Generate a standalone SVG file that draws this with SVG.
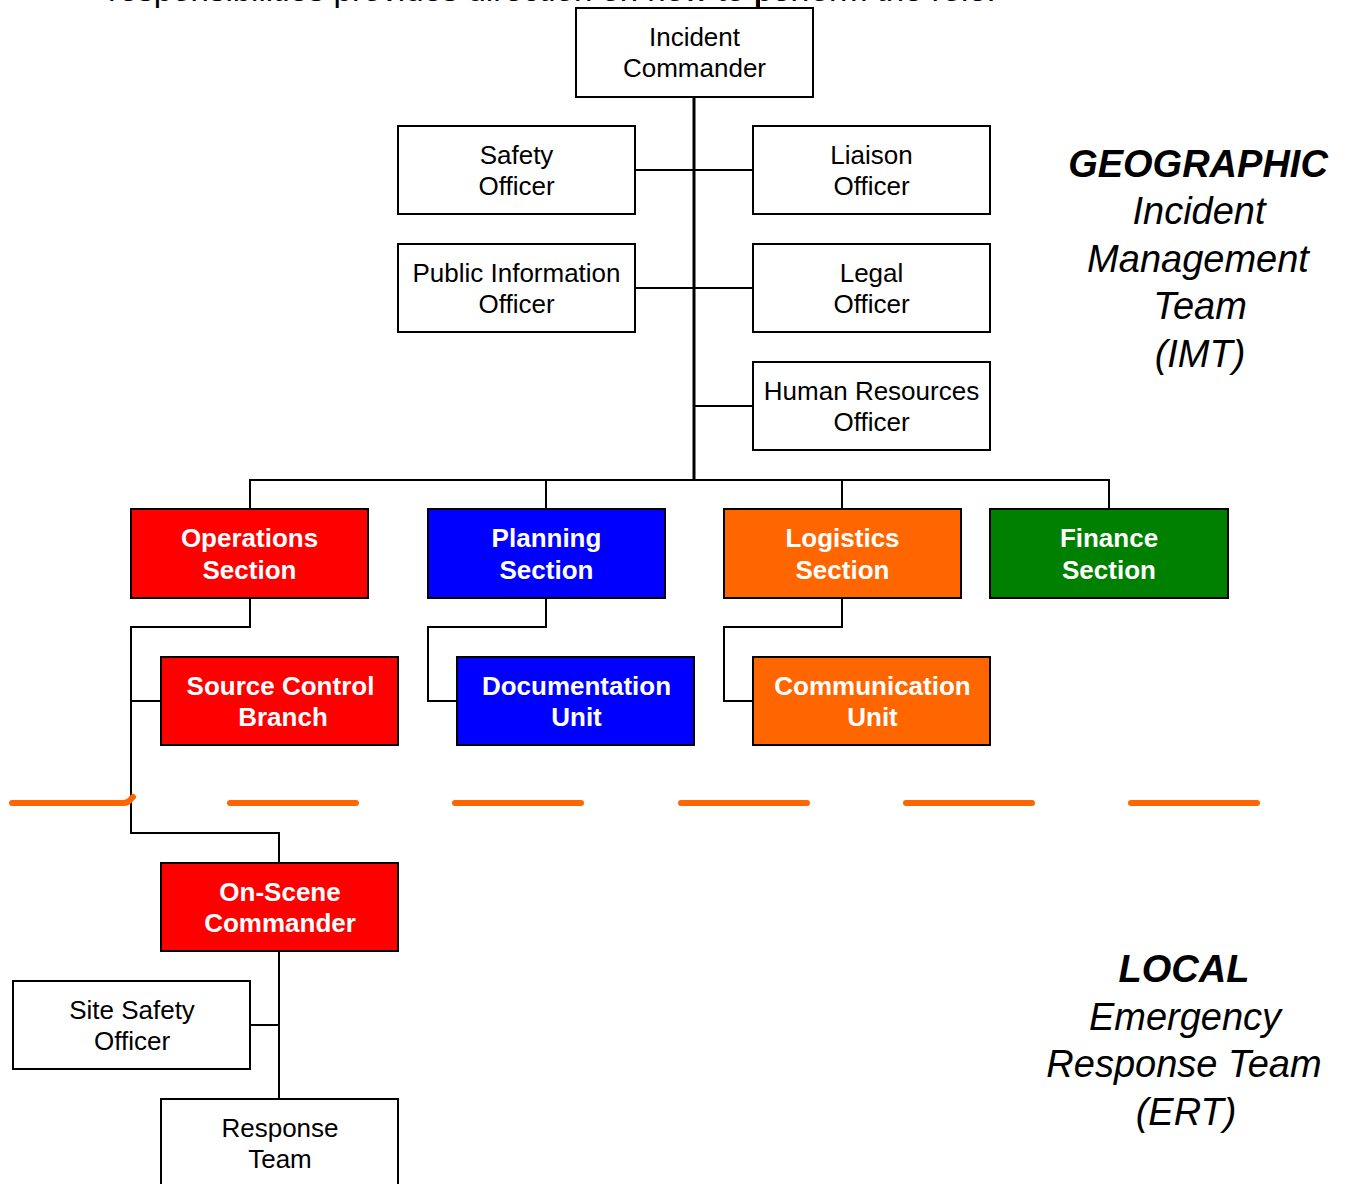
<svg xmlns="http://www.w3.org/2000/svg" width="1347" height="1184" viewBox="0 0 1347 1184">
<style>
.box{stroke:#000;stroke-width:2}
.w{fill:#fff}
.red{fill:#FF0000}
.blue{fill:#0000FF}
.orange{fill:#FF6600}
.green{fill:#008000}
.t{font-family:"Liberation Sans",Arial,sans-serif;font-size:26px;text-anchor:middle;fill:#000}
.tb{font-family:"Liberation Sans",Arial,sans-serif;font-size:26px;font-weight:bold;text-anchor:middle;fill:#fff}
.big{font-family:"Liberation Sans",Arial,sans-serif;font-size:38px;font-style:italic;text-anchor:middle;fill:#000}
.conn{stroke:#000;stroke-width:2;fill:none}
.dash{stroke:#FF6600;stroke-width:6;stroke-linecap:round;fill:none}
</style>
<rect width="1347" height="1184" fill="#fff"/>
<text x="108" y="1" font-family="Liberation Sans, Arial, sans-serif" font-size="33" fill="#000">responsibilities provides direction on how to perform the role.</text>

<g id="connectors">
<line class="conn" x1="759" y1="0" x2="759" y2="8"/>
<line x1="694" y1="97" x2="694" y2="481" stroke="#000" stroke-width="3"/>
<line class="conn" x1="635" y1="170" x2="753" y2="170"/>
<line class="conn" x1="635" y1="288" x2="753" y2="288"/>
<line class="conn" x1="694" y1="406" x2="753" y2="406"/>
<polyline class="conn" points="250,509 250,480 1109,480 1109,509"/>
<line class="conn" x1="546" y1="480" x2="546" y2="509"/>
<line class="conn" x1="842" y1="480" x2="842" y2="509"/>
<polyline class="conn" points="250,598 250,627 131,627 131,833 279,833 279,863"/>
<line class="conn" x1="131" y1="701" x2="161" y2="701"/>
<polyline class="conn" points="546,598 546,627 428,627 428,701 457,701"/>
<polyline class="conn" points="842,598 842,627 724,627 724,701 753,701"/>
<line class="conn" x1="279" y1="951" x2="279" y2="1099"/>
<line class="conn" x1="250" y1="1025" x2="279" y2="1025"/>
</g>

<g id="divider">
<path class="dash" d="M12,803 L124,803 Q128,803 131,799 L133,797"/>
<line class="dash" x1="230" y1="803" x2="356" y2="803"/>
<line class="dash" x1="455" y1="803" x2="581" y2="803"/>
<line class="dash" x1="681" y1="803" x2="807" y2="803"/>
<line class="dash" x1="906" y1="803" x2="1032" y2="803"/>
<line class="dash" x1="1131" y1="803" x2="1257" y2="803"/>
</g>

<g id="incident-commander">
<rect class="box w" x="576" y="8" width="237" height="89"/>
<text class="t" x="694.5" y="46">Incident</text>
<text class="t" x="694.5" y="77">Commander</text>
</g>
<g id="safety-officer">
<rect class="box w" x="398" y="126" width="237" height="88"/>
<text class="t" x="516.5" y="164">Safety</text>
<text class="t" x="516.5" y="195">Officer</text>
</g>
<g id="liaison-officer">
<rect class="box w" x="753" y="126" width="237" height="88"/>
<text class="t" x="871.5" y="164">Liaison</text>
<text class="t" x="871.5" y="195">Officer</text>
</g>
<g id="public-information-officer">
<rect class="box w" x="398" y="244" width="237" height="88"/>
<text class="t" x="516.5" y="282">Public Information</text>
<text class="t" x="516.5" y="313">Officer</text>
</g>
<g id="legal-officer">
<rect class="box w" x="753" y="244" width="237" height="88"/>
<text class="t" x="871.5" y="282">Legal</text>
<text class="t" x="871.5" y="313">Officer</text>
</g>
<g id="hr-officer">
<rect class="box w" x="753" y="362" width="237" height="88"/>
<text class="t" x="871.5" y="400">Human Resources</text>
<text class="t" x="871.5" y="431">Officer</text>
</g>

<g id="operations-section">
<rect class="box red" x="131" y="509" width="237" height="89"/>
<text class="tb" x="249.5" y="547">Operations</text>
<text class="tb" x="249.5" y="579">Section</text>
</g>
<g id="planning-section">
<rect class="box blue" x="428" y="509" width="237" height="89"/>
<text class="tb" x="546.5" y="547">Planning</text>
<text class="tb" x="546.5" y="579">Section</text>
</g>
<g id="logistics-section">
<rect class="box orange" x="724" y="509" width="237" height="89"/>
<text class="tb" x="842.5" y="547">Logistics</text>
<text class="tb" x="842.5" y="579">Section</text>
</g>
<g id="finance-section">
<rect class="box green" x="990" y="509" width="238" height="89"/>
<text class="tb" x="1109" y="547">Finance</text>
<text class="tb" x="1109" y="579">Section</text>
</g>

<g id="source-control-branch">
<rect class="box red" x="161" y="657" width="237" height="88"/>
<text class="tb" x="280.5" y="695">Source Control</text>
<text class="tb" x="283" y="726">Branch</text>
</g>
<g id="documentation-unit">
<rect class="box blue" x="457" y="657" width="237" height="88"/>
<text class="tb" x="576.5" y="695">Documentation</text>
<text class="tb" x="576.5" y="726">Unit</text>
</g>
<g id="communication-unit">
<rect class="box orange" x="753" y="657" width="237" height="88"/>
<text class="tb" x="872.5" y="695">Communication</text>
<text class="tb" x="872.5" y="726">Unit</text>
</g>

<g id="on-scene-commander">
<rect class="box red" x="161" y="863" width="237" height="88"/>
<text class="tb" x="280" y="901">On-Scene</text>
<text class="tb" x="280" y="932">Commander</text>
</g>
<g id="site-safety-officer">
<rect class="box w" x="13" y="981" width="237" height="88"/>
<text class="t" x="132" y="1019">Site Safety</text>
<text class="t" x="132" y="1050">Officer</text>
</g>
<g id="response-team">
<rect class="box w" x="161" y="1099" width="237" height="100"/>
<text class="t" x="280" y="1137">Response</text>
<text class="t" x="280" y="1168">Team</text>
</g>

<g id="imt-label">
<text class="big" x="1198" y="177" font-weight="bold">GEOGRAPHIC</text>
<text class="big" x="1199" y="224">Incident</text>
<text class="big" x="1198" y="271.5">Management</text>
<text class="big" x="1200" y="319">Team</text>
<text class="big" x="1200" y="366.5">(IMT)</text>
</g>
<g id="ert-label">
<text class="big" x="1184" y="982" font-weight="bold">LOCAL</text>
<text class="big" x="1185" y="1029.5">Emergency</text>
<text class="big" x="1184" y="1077">Response Team</text>
<text class="big" x="1186" y="1124.5">(ERT)</text>
</g>
</svg>
